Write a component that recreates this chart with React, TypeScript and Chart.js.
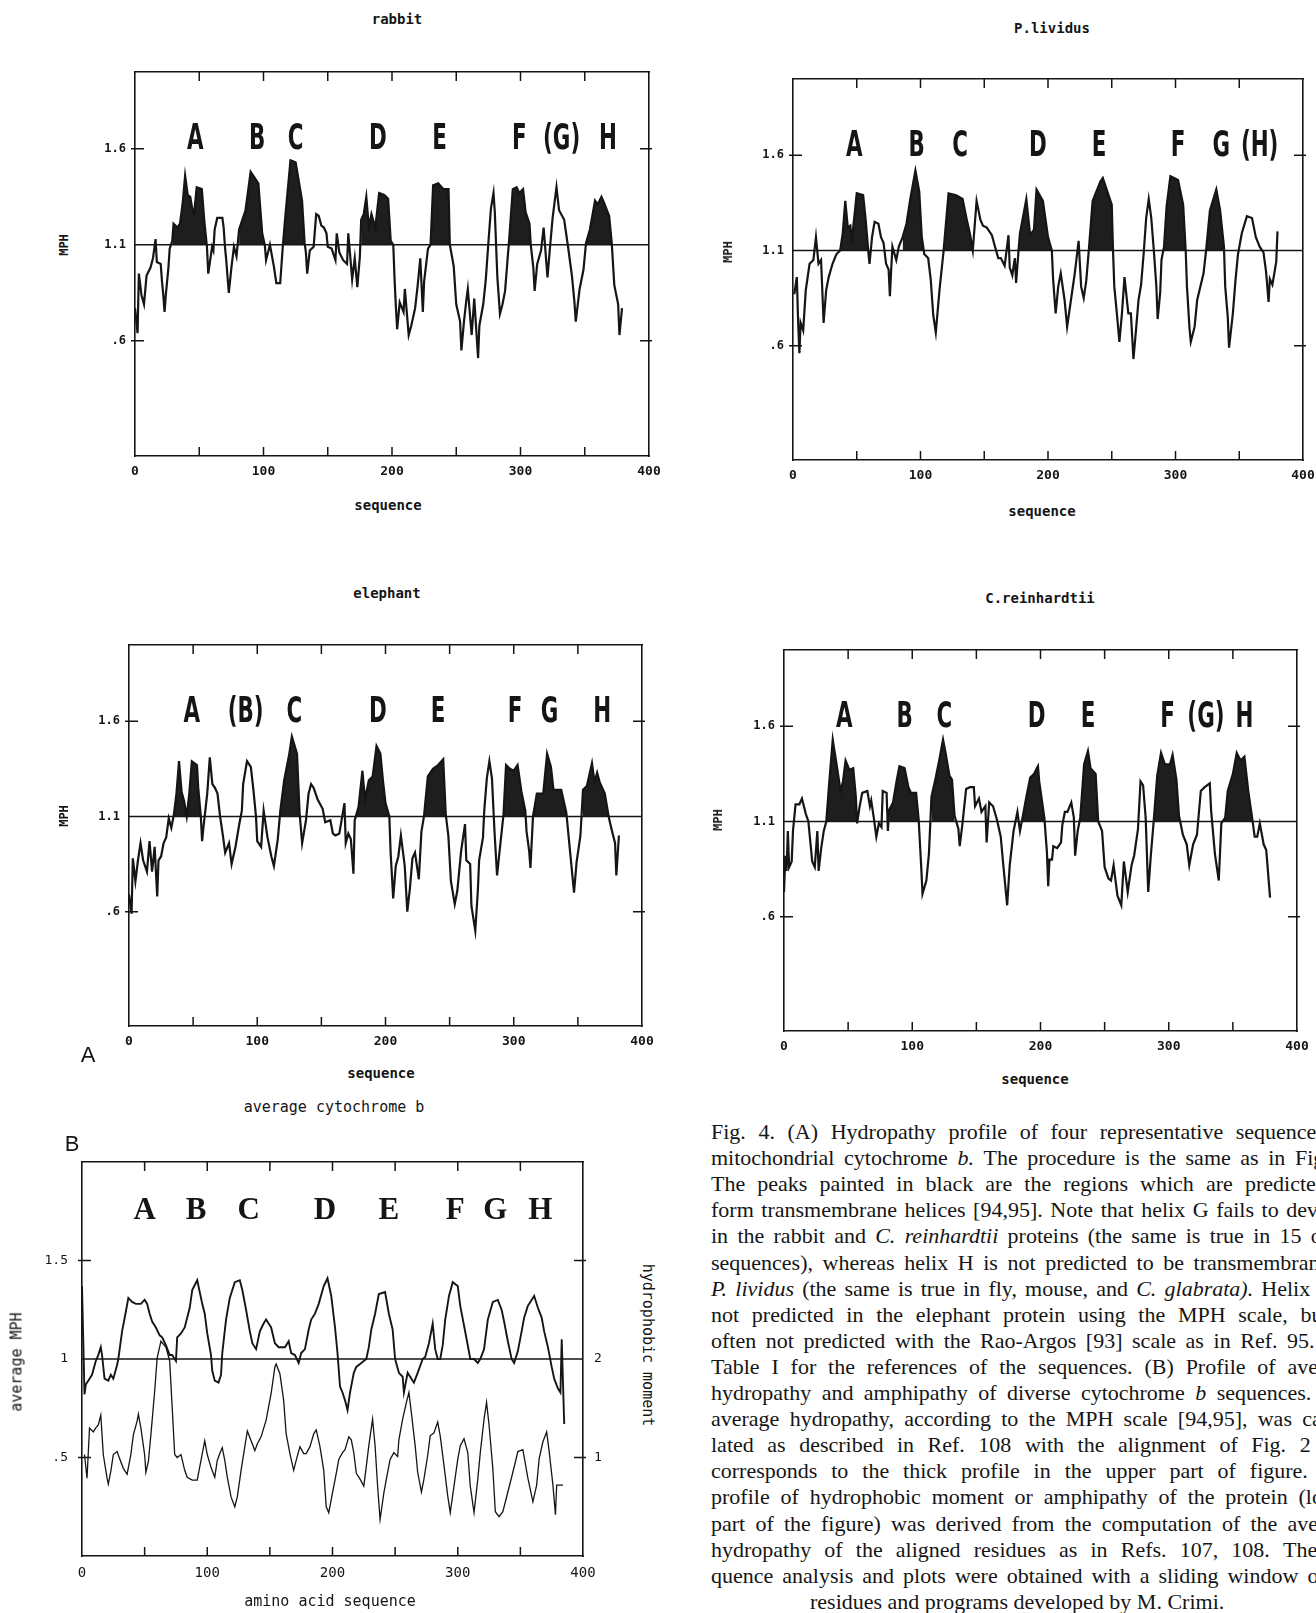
import React, { useEffect, useRef } from "react";
import { Chart, registerables } from "chart.js";
Chart.register(...registerables);

type Pt = [number, number];

// ---------- DATA (residue, MPH) ----------
const RABBIT: Pt[] = [
  [0,0.77],[2,0.64],[3,0.95],[5,0.84],[7,0.79],[9,0.94],[12,0.98],[14,1.03],[16,1.13],[17,1.01],[20,1.0],[21,0.91],[22,0.84],[23,0.75],[24,0.84],[26,0.98],[27,1.08],[29,1.12],[30,1.21],[33,1.19],[35,1.21],[37,1.31],[39,1.46],[41,1.36],[43,1.35],[45,1.27],[46,1.26],[48,1.4],[52,1.39],[54,1.22],[56,1.09],[57,0.95],[60,1.09],[61,1.07],[62,1.18],[64,1.24],[68,1.24],[69,1.19],[70,1.09],[71,1.02],[73,0.85],[75,0.98],[77,1.09],[79,1.04],[81,1.18],[86,1.28],[90,1.48],[93,1.45],[96,1.42],[99,1.16],[101,1.1],[102,1.02],[105,1.1],[108,0.99],[110,0.9],[113,0.9],[115,1.09],[117,1.25],[121,1.54],[125,1.53],[130,1.33],[132,1.11],[133,1.06],[134,0.95],[136,1.07],[139,1.09],[141,1.26],[143,1.25],[145,1.2],[147,1.19],[149,1.16],[150,1.09],[153,1.08],[156,1.02],[157,1.16],[159,1.06],[162,1.02],[165,1.0],[166,1.16],[169,0.92],[171,1.03],[173,0.88],[175,1.04],[176,1.23],[178,1.26],[180,1.35],[182,1.19],[184,1.26],[187,1.19],[190,1.37],[194,1.36],[197,1.34],[199,1.12],[201,1.1],[202,0.92],[203,0.78],[204,0.66],[206,0.8],[209,0.75],[210,0.87],[213,0.63],[215,0.68],[218,0.77],[220,0.89],[222,1.03],[224,0.75],[225,0.91],[228,1.08],[230,1.1],[232,1.41],[236,1.42],[240,1.39],[244,1.39],[245,1.1],[248,0.99],[250,0.79],[253,0.7],[254,0.55],[256,0.7],[258,0.82],[259,0.87],[262,0.63],[264,0.82],[267,0.51],[268,0.68],[271,0.79],[273,0.92],[275,1.11],[277,1.29],[279,1.37],[280,1.27],[282,0.93],[284,0.74],[286,0.79],[288,0.86],[290,1.03],[291,1.11],[294,1.39],[297,1.4],[299,1.37],[302,1.39],[304,1.27],[307,1.21],[308,1.1],[310,0.98],[311,0.86],[313,1.0],[316,1.07],[318,1.19],[321,0.93],[323,1.09],[325,1.24],[328,1.4],[330,1.28],[334,1.23],[337,1.09],[340,0.94],[342,0.8],[343,0.7],[346,0.87],[349,0.97],[351,1.11],[354,1.18],[358,1.33],[360,1.31],[363,1.35],[365,1.32],[369,1.25],[371,1.11],[373,0.89],[376,0.79],[377,0.63],[379,0.77]
];
const RABBIT_HELICES: Pt[] = [[29,56],[81,101],[115,133],[176,201],[230,245],[291,308],[351,371]];
const RABBIT_LABELS = ["A","B","C","D","E","F","(G)","H"];
const RABBIT_LABEL_X = [47,95,125,189,237,299,332,368];

const PLIVIDUS: Pt[] = [
  [1,0.87],[3,0.96],[4,0.73],[5,0.56],[6,0.72],[8,0.68],[10,0.89],[13,1.03],[16,1.05],[18,1.17],[20,1.03],[22,1.05],[23,0.89],[24,0.72],[26,0.89],[28,0.96],[31,1.03],[34,1.08],[37,1.1],[39,1.19],[41,1.36],[43,1.22],[45,1.23],[46,1.14],[50,1.4],[55,1.39],[57,1.26],[59,1.1],[60,1.03],[62,1.17],[64,1.25],[67,1.24],[69,1.17],[71,1.14],[73,1.03],[75,1.0],[76,0.86],[77,1.0],[78,1.12],[81,1.05],[83,1.12],[86,1.17],[89,1.24],[92,1.37],[96,1.52],[99,1.41],[101,1.17],[103,1.08],[106,1.06],[108,0.95],[110,0.76],[112,0.67],[115,0.9],[118,1.09],[122,1.4],[128,1.39],[133,1.37],[136,1.27],[139,1.18],[141,1.1],[144,1.36],[147,1.26],[149,1.23],[152,1.22],[156,1.18],[158,1.13],[161,1.06],[163,1.06],[166,1.02],[169,1.18],[170,1.01],[172,0.97],[174,1.06],[175,0.93],[177,1.11],[178,1.19],[183,1.37],[186,1.18],[189,1.21],[191,1.42],[196,1.36],[200,1.17],[203,1.1],[204,0.95],[206,0.77],[208,0.91],[210,0.98],[213,0.84],[215,0.7],[218,0.84],[221,0.98],[224,1.15],[226,0.91],[228,0.85],[230,0.94],[232,1.1],[235,1.36],[241,1.46],[243,1.48],[250,1.34],[251,1.1],[252,0.91],[254,0.77],[256,0.62],[258,0.77],[260,0.96],[263,0.77],[265,0.77],[267,0.53],[269,0.68],[271,0.84],[273,0.92],[275,1.08],[277,1.27],[279,1.37],[281,1.27],[283,1.1],[285,0.91],[286,0.74],[288,0.88],[289,1.05],[291,1.12],[293,1.33],[296,1.49],[302,1.47],[306,1.34],[308,1.1],[309,0.91],[311,0.69],[312,0.62],[315,0.7],[317,0.84],[322,0.98],[324,1.1],[327,1.31],[332,1.42],[335,1.31],[338,1.12],[339,0.91],[341,0.75],[342,0.59],[345,0.77],[347,0.94],[349,1.08],[352,1.19],[356,1.28],[360,1.27],[363,1.17],[366,1.12],[369,1.09],[371,0.99],[373,0.83],[374,0.95],[376,0.92],[379,1.04],[380,1.2]
];
const PLIVIDUS_HELICES: Pt[] = [[37,59],[86,103],[118,141],[177,203],[232,251],[291,308],[324,338]];
const PLIVIDUS_LABELS = ["A","B","C","D","E","F","G","(H)"];
const PLIVIDUS_LABEL_X = [48,97,131,192,240,302,336,366];

const ELEPHANT: Pt[] = [
  [0,0.69],[2,0.59],[3,0.88],[5,0.76],[7,0.87],[9,0.96],[11,0.87],[14,0.81],[16,0.97],[18,0.81],[20,0.94],[22,0.68],[23,0.87],[25,0.89],[27,0.96],[29,0.99],[31,1.09],[33,1.04],[35,1.11],[37,1.22],[39,1.39],[41,1.23],[43,1.18],[45,1.1],[47,1.22],[49,1.39],[53,1.37],[54,1.25],[56,1.1],[57,0.97],[58,1.04],[61,1.22],[63,1.41],[65,1.27],[67,1.25],[69,1.22],[71,1.1],[73,1.01],[75,0.91],[78,0.96],[80,0.85],[83,0.94],[86,1.06],[88,1.13],[89,1.27],[92,1.39],[95,1.36],[97,1.24],[99,1.1],[100,0.97],[103,0.94],[105,1.13],[108,0.99],[111,0.89],[113,0.84],[116,0.98],[118,1.13],[121,1.29],[125,1.43],[127,1.52],[131,1.43],[133,1.12],[135,0.96],[138,1.08],[140,1.22],[142,1.27],[144,1.25],[147,1.19],[151,1.14],[153,1.07],[157,1.08],[159,1.01],[161,1.0],[164,1.01],[168,1.17],[169,0.96],[171,1.01],[173,0.98],[175,0.8],[176,1.08],[179,1.15],[182,1.34],[184,1.19],[187,1.29],[190,1.31],[193,1.47],[196,1.43],[198,1.29],[200,1.17],[203,1.1],[204,0.91],[206,0.67],[208,0.84],[210,0.89],[212,1.0],[215,0.84],[217,0.6],[219,0.72],[221,0.88],[223,0.91],[226,0.77],[228,1.02],[230,1.1],[233,1.31],[237,1.35],[241,1.37],[245,1.4],[247,1.11],[249,1.0],[251,0.76],[254,0.64],[256,0.71],[259,0.92],[262,1.06],[263,0.87],[266,0.85],[267,0.63],[270,0.5],[272,0.71],[273,0.87],[276,0.99],[277,1.13],[279,1.3],[281,1.39],[283,1.3],[285,1.02],[287,0.79],[289,0.92],[292,1.11],[294,1.37],[297,1.35],[300,1.34],[303,1.37],[306,1.23],[309,1.13],[310,1.02],[312,0.92],[313,0.83],[315,1.1],[318,1.22],[323,1.22],[326,1.43],[329,1.36],[331,1.24],[333,1.24],[337,1.24],[341,1.12],[343,0.98],[345,0.84],[347,0.7],[349,0.86],[352,1.0],[354,1.24],[357,1.26],[361,1.38],[363,1.28],[365,1.33],[367,1.28],[371,1.22],[374,1.1],[376,1.04],[379,0.96],[380,0.79],[382,1.0]
];
const ELEPHANT_HELICES: Pt[] = [[35,56],[118,133],[176,203],[230,247],[292,310],[315,341],[354,374]];
const ELEPHANT_LABELS = ["A","(B)","C","D","E","F","G","H"];
const ELEPHANT_LABEL_X = [49,91,129,194,241,301,328,369];

const CREINHARDTII: Pt[] = [
  [0,0.73],[1,0.92],[2,0.84],[3,1.05],[4,0.86],[6,0.89],[7,1.05],[9,1.19],[12,1.19],[14,1.22],[17,1.14],[19,1.1],[21,0.96],[22,0.89],[24,0.86],[26,1.05],[27,0.84],[29,0.96],[31,1.05],[33,1.1],[35,1.28],[38,1.53],[41,1.4],[43,1.31],[44,1.26],[46,1.31],[48,1.42],[51,1.37],[54,1.38],[56,1.23],[57,1.09],[59,1.18],[61,1.25],[65,1.26],[67,1.18],[68,1.21],[70,1.12],[72,1.02],[74,1.09],[76,1.07],[77,1.26],[80,1.25],[81,1.05],[82,1.16],[85,1.2],[88,1.32],[90,1.39],[94,1.38],[97,1.28],[99,1.25],[103,1.25],[105,1.11],[107,0.86],[108,0.72],[111,0.79],[113,0.93],[115,1.23],[118,1.32],[121,1.42],[124,1.53],[126,1.46],[129,1.34],[131,1.32],[133,1.13],[136,1.06],[137,0.97],[139,1.08],[142,1.27],[145,1.28],[148,1.28],[149,1.18],[152,1.22],[154,1.15],[157,1.18],[158,0.99],[160,1.2],[163,1.18],[166,1.11],[169,1.02],[171,0.87],[174,0.66],[176,0.87],[179,1.05],[182,1.15],[184,1.05],[186,1.12],[189,1.23],[192,1.33],[195,1.35],[198,1.39],[199,1.31],[203,1.12],[205,0.94],[206,0.76],[207,0.9],[209,0.9],[210,0.97],[213,0.96],[216,0.99],[217,1.08],[219,1.15],[221,1.15],[224,1.2],[226,1.12],[227,0.92],[229,1.05],[231,1.12],[234,1.4],[237,1.47],[239,1.38],[243,1.35],[245,1.1],[248,1.05],[250,0.86],[253,0.8],[255,0.79],[257,0.87],[260,0.71],[263,0.66],[265,0.89],[268,0.73],[271,0.87],[273,0.92],[276,1.06],[278,1.31],[280,1.29],[282,1.12],[284,0.73],[286,0.92],[288,1.08],[291,1.34],[294,1.46],[297,1.4],[301,1.4],[303,1.45],[306,1.32],[308,1.13],[311,1.03],[314,0.98],[316,0.87],[319,0.98],[322,1.03],[325,1.26],[328,1.28],[332,1.3],[333,1.16],[336,0.93],[339,0.79],[341,1.09],[344,1.12],[346,1.26],[350,1.35],[353,1.46],[356,1.42],[359,1.44],[362,1.26],[365,1.12],[367,1.02],[369,1.02],[371,1.09],[374,0.98],[376,0.95],[379,0.7]
];
const CREINHARDTII_HELICES: Pt[] = [[33,57],[82,105],[115,133],[184,203],[231,245],[288,308],[341,365]];
const CREINHARDTII_LABELS = ["A","B","C","D","E","F","(G)","H"];
const CREINHARDTII_LABEL_X = [47,94,125,197,237,299,329,359];

// Panel B: average MPH (left axis) and hydrophobic moment (right axis)
const AVG_MPH: Pt[] = [
  [0,1.37],[2,0.82],[3,0.87],[5,0.89],[8,0.92],[11,0.99],[13,1.02],[15,1.06],[16,1.02],[18,0.9],[21,0.89],[23,0.92],[25,0.9],[28,0.97],[29,1.0],[32,1.14],[35,1.24],[37,1.31],[40,1.29],[43,1.28],[47,1.28],[50,1.3],[52,1.28],[54,1.23],[56,1.19],[59,1.16],[62,1.12],[64,1.11],[67,1.07],[70,1.02],[72,1.02],[75,0.99],[76,1.11],[79,1.13],[82,1.16],[86,1.26],[88,1.35],[92,1.4],[96,1.28],[98,1.23],[100,1.13],[103,1.02],[104,0.94],[106,0.89],[109,0.88],[111,0.92],[112,1.03],[115,1.2],[118,1.31],[122,1.39],[126,1.4],[128,1.35],[131,1.25],[134,1.14],[136,1.08],[139,1.05],[142,1.14],[145,1.18],[147,1.2],[149,1.18],[151,1.16],[154,1.08],[157,1.06],[159,1.06],[162,1.06],[165,1.09],[167,1.03],[170,1.02],[173,0.98],[175,1.03],[178,1.05],[181,1.15],[183,1.2],[186,1.23],[189,1.28],[193,1.37],[196,1.41],[199,1.32],[202,1.16],[204,1.03],[206,0.86],[208,0.83],[210,0.79],[212,0.74],[214,0.83],[217,0.93],[219,0.96],[223,0.98],[227,1.0],[229,1.06],[231,1.15],[234,1.23],[237,1.33],[242,1.34],[245,1.23],[248,1.15],[250,1.0],[253,0.93],[256,0.91],[257,0.83],[260,0.93],[262,0.91],[265,0.88],[268,0.93],[272,1.0],[274,1.01],[277,1.08],[280,1.18],[282,1.05],[284,1.0],[286,1.0],[288,1.07],[290,1.2],[293,1.32],[296,1.39],[300,1.37],[302,1.27],[305,1.17],[308,1.07],[310,1.0],[313,1.0],[316,0.98],[318,1.0],[321,1.05],[324,1.2],[328,1.29],[332,1.3],[335,1.25],[337,1.19],[340,1.09],[343,1.0],[345,0.98],[348,1.04],[351,1.14],[353,1.21],[356,1.27],[361,1.32],[364,1.26],[367,1.21],[369,1.14],[372,1.06],[375,0.96],[377,0.9],[380,0.85],[382,0.83],[383,1.1],[385,0.67]
];
const HYDROPHOBIC_MOMENT: Pt[] = [
  [2,1.03],[4,0.79],[6,1.3],[9,1.26],[11,1.3],[13,1.33],[15,1.43],[16,1.23],[17,1.03],[20,0.79],[21,0.73],[23,0.86],[25,1.03],[28,1.06],[30,0.99],[33,0.89],[36,0.83],[39,1.03],[41,1.23],[44,1.37],[45,1.44],[47,1.3],[50,1.03],[51,0.85],[53,0.96],[55,1.23],[58,1.67],[60,2.01],[63,2.18],[65,2.15],[67,2.12],[70,1.98],[72,1.51],[74,1.03],[76,1.0],[79,1.03],[82,0.87],[84,0.8],[88,0.77],[92,0.77],[95,0.97],[98,1.17],[100,1.03],[103,0.9],[106,0.8],[108,0.97],[110,1.04],[112,1.1],[114,0.97],[116,0.8],[119,0.6],[122,0.5],[124,0.6],[127,0.87],[130,1.11],[132,1.27],[135,1.17],[138,1.07],[140,1.14],[143,1.21],[147,1.38],[151,1.65],[154,1.92],[155,1.95],[158,1.85],[161,1.58],[163,1.24],[166,1.04],[169,0.87],[171,0.97],[174,1.11],[177,1.04],[179,1.04],[182,1.11],[185,1.24],[187,1.28],[190,1.11],[193,0.87],[195,0.5],[197,0.44],[200,0.64],[203,0.84],[205,0.98],[208,1.05],[210,1.08],[213,1.21],[215,1.18],[217,1.05],[219,0.84],[222,0.78],[225,0.71],[227,0.91],[229,1.12],[232,1.39],[234,1.12],[236,0.71],[238,0.37],[241,0.64],[244,0.85],[246,0.98],[249,1.05],[252,1.01],[253,1.18],[256,1.39],[259,1.56],[261,1.66],[263,1.45],[266,1.12],[268,0.85],[271,0.65],[273,0.78],[276,1.02],[278,1.22],[281,1.25],[284,1.36],[286,1.22],[289,0.92],[292,0.61],[294,0.44],[297,0.71],[300,0.98],[302,1.12],[305,1.19],[308,1.05],[310,0.71],[313,0.44],[316,0.78],[318,1.05],[321,1.39],[323,1.56],[325,1.33],[328,0.89],[330,0.45],[333,0.4],[336,0.45],[340,0.65],[344,0.85],[348,1.06],[352,1.08],[356,0.79],[360,0.55],[363,0.72],[365,0.99],[368,1.16],[371,1.26],[373,1.06],[376,0.72],[378,0.42],[379,0.72],[384,0.72]
];
const B_LABELS = ["A","B","C","D","E","F","G","H"];
const B_LABEL_X = [50,91,133,194,245,298,330,366];

// ---------- AXES ----------
const X_TICK_MARKS = [50,100,150,200,250,300,350];
const Y_TICKS_A = [0.6, 1.1, 1.6];
const Y_TICK_LABELS_A = [".6", "1.1", "1.6"];
const Y_MARKS_A = [0.6, 1.6];
const THRESHOLD_A = 1.1;
const Y_TICKS_B = [0.5, 1, 1.5];
const Y_TICK_LABELS_B = [".5", "1", "1.5"];
const Y2_TICKS_B = [1, 2];
const Y2_TICK_LABELS_B = ["1", "2"];
const Y_MARKS_B = [0.5, 1.5];
const THRESHOLD_B = 1.0;

const CAPTION_LINES = [
  "Fig. 4. (A) Hydropathy profile of four representative sequences of",
  "mitochondrial cytochrome ~b. The procedure is the same as in Fig. 3.",
  "The peaks painted in black are the regions which are predicted to",
  "form transmembrane helices [94,95]. Note that helix G fails to develop",
  "in the rabbit and ~C. ~reinhardtii proteins (the same is true in 15 other",
  "sequences), whereas helix H is not predicted to be transmembrane in",
  "~P. ~lividus (the same is true in fly, mouse, and ~C. ~glabrata). Helix B is",
  "not predicted in the elephant protein using the MPH scale, but is",
  "often not predicted with the Rao-Argos [93] scale as in Ref. 95. See",
  "Table I for the references of the sequences. (B) Profile of average",
  "hydropathy and amphipathy of diverse cytochrome ~b sequences. The",
  "average hydropathy, according to the MPH scale [94,95], was calcu-",
  "lated as described in Ref. 108 with the alignment of Fig. 2 and",
  "corresponds to the thick profile in the upper part of figure. The",
  "profile of hydrophobic moment or amphipathy of the protein (lower",
  "part of the figure) was derived from the computation of the average",
  "hydropathy of the aligned residues as in Refs. 107, 108. The se-",
  "quence analysis and plots were obtained with a sliding window of 11",
];
const CAPTION_LAST = "residues and programs developed by M. Crimi.";

// ---------- STYLE ----------
const INK = "#151515";
const FILL = "#1e1e1e";
const MONO = '"DejaVu Sans Mono", "Liberation Mono", monospace';

function inRanges(x: number, ranges: Pt[]) {
  return ranges.some(([a, b]) => x >= a && x <= b);
}

function innerTicksPlugin(xs: number[], ys: number[], len: number) {
  return {
    id: "innerTicks",
    afterDraw(chart: any) {
      const { ctx, chartArea: a, scales } = chart;
      ctx.save();
      ctx.strokeStyle = INK;
      ctx.lineWidth = 1.5;
      ctx.beginPath();
      for (const v of xs) {
        const px = scales.x.getPixelForValue(v);
        ctx.moveTo(px, a.bottom);
        ctx.lineTo(px, a.bottom - len);
        ctx.moveTo(px, a.top);
        ctx.lineTo(px, a.top + len);
      }
      for (const v of ys) {
        const py = scales.y.getPixelForValue(v);
        ctx.moveTo(a.left - 4, py);
        ctx.lineTo(a.left + len, py);
        ctx.moveTo(a.right + 3, py);
        ctx.lineTo(a.right - len, py);
      }
      ctx.stroke();
      ctx.restore();
    },
  };
}

function helixLabelsPlugin(labels: string[], xs: number[], yVal: number, font: string, sx: number) {
  return {
    id: "helixLabels",
    afterDatasetsDraw(chart: any) {
      const { ctx, scales } = chart;
      ctx.save();
      ctx.fillStyle = INK;
      ctx.font = font;
      ctx.textAlign = "center";
      ctx.textBaseline = "middle";
      labels.forEach((t, i) => {
        const px = scales.x.getPixelForValue(xs[i]);
        const py = scales.y.getPixelForValue(yVal);
        ctx.save();
        ctx.translate(px, py);
        ctx.scale(sx, 1);
        ctx.fillText(t, 0, 0);
        ctx.restore();
      });
      ctx.restore();
    },
  };
}

type Pad = { l: number; r: number; t: number; b: number };
type Frame = { l: number; r: number; t: number; b: number };

const PAD_A: Pad = { l: 62, r: 12, t: 12, b: 32 };
const PAD_B: Pad = { l: 62, r: 40, t: 12, b: 36 };

function borderOpt() {
  return { display: true, color: INK, width: 1.6 };
}

function fixSize(dim: "w" | "h", size: number) {
  return (s: any) => {
    if (dim === "w") s.width = size;
    else s.height = size;
    s.paddingLeft = 0;
    s.paddingRight = 0;
    s.paddingTop = 0;
    s.paddingBottom = 0;
  };
}

function panelAConfig(series: Pt[], helices: Pt[], labels: string[], labelX: number[], pad: Pad) {
  return {
    type: "line",
    data: {
      datasets: [
        {
          label: "helix",
          data: series.map(([x, y]) => ({ x, y: inRanges(x, helices) ? y : null })),
          borderWidth: 0,
          borderColor: "rgba(0,0,0,0)",
          pointRadius: 0,
          spanGaps: false,
          fill: { target: { value: THRESHOLD_A }, above: FILL, below: "rgba(0,0,0,0)" },
          order: 3,
        },
        {
          label: "MPH",
          data: series.map(([x, y]) => ({ x, y })),
          borderColor: INK,
          borderWidth: 2.2,
          pointRadius: 0,
          fill: false,
          tension: 0,
          order: 2,
        },
        {
          label: "threshold",
          data: [{ x: 0, y: THRESHOLD_A }, { x: 400, y: THRESHOLD_A }],
          borderColor: INK,
          borderWidth: 1.6,
          pointRadius: 0,
          fill: false,
          order: 1,
        },
      ],
    },
    options: {
      responsive: false,
      animation: false,
      events: [],
      layout: { padding: 0, autoPadding: false },
      plugins: { legend: { display: false }, tooltip: { enabled: false } },
      scales: {
        x: {
          type: "linear", position: "bottom", min: 0, max: 400,
          ticks: { stepSize: 100, autoSkip: false, maxRotation: 0, padding: 8, color: INK, font: { family: MONO, size: 13, weight: "bold" } },
          grid: { display: false, drawTicks: false },
          border: borderOpt(),
          afterFit: fixSize("h", pad.b),
        },
        x2: {
          type: "linear", position: "top", min: 0, max: 400,
          ticks: { display: false },
          grid: { display: false, drawTicks: false },
          border: borderOpt(),
          afterFit: fixSize("h", pad.t),
        },
        y: {
          type: "linear", position: "left", min: 0, max: 2,
          afterBuildTicks: (s: any) => { s.ticks = Y_TICKS_A.map((v) => ({ value: v })); },
          ticks: {
            padding: 9, color: INK, font: { family: MONO, size: 12, weight: "bold" },
            callback: (v: number) => Y_TICK_LABELS_A[Y_TICKS_A.indexOf(v)] ?? "",
          },
          grid: { display: false, drawTicks: false },
          border: borderOpt(),
          afterFit: fixSize("w", pad.l),
        },
        y2: {
          type: "linear", position: "right", min: 0, max: 2,
          ticks: { display: false },
          grid: { display: false, drawTicks: false },
          border: borderOpt(),
          afterFit: fixSize("w", pad.r),
        },
      },
    },
    plugins: [
      innerTicksPlugin(X_TICK_MARKS, Y_MARKS_A, 9),
      helixLabelsPlugin(labels, labelX, 1.645, 'bold 35px "Liberation Sans Narrow", "DejaVu Sans Condensed", "Roboto Condensed", sans-serif', 0.68),
    ],
  };
}

function panelBConfig(pad: Pad) {
  return {
    type: "line",
    data: {
      datasets: [
        {
          label: "average MPH",
          data: AVG_MPH.map(([x, y]) => ({ x, y })),
          yAxisID: "y",
          borderColor: INK, borderWidth: 1.9, pointRadius: 0, fill: false, tension: 0, order: 2,
        },
        {
          label: "hydrophobic moment",
          data: HYDROPHOBIC_MOMENT.map(([x, y]) => ({ x, y })),
          yAxisID: "y2",
          borderColor: INK, borderWidth: 1.3, pointRadius: 0, fill: false, tension: 0, order: 3,
        },
        {
          label: "threshold",
          data: [{ x: 0, y: THRESHOLD_B }, { x: 400, y: THRESHOLD_B }],
          yAxisID: "y",
          borderColor: INK, borderWidth: 1.5, pointRadius: 0, fill: false, order: 1,
        },
      ],
    },
    options: {
      responsive: false,
      animation: false,
      events: [],
      layout: { padding: 0, autoPadding: false },
      plugins: { legend: { display: false }, tooltip: { enabled: false } },
      scales: {
        x: {
          type: "linear", position: "bottom", min: 0, max: 400,
          ticks: { stepSize: 100, autoSkip: false, maxRotation: 0, padding: 9, color: INK, font: { family: MONO, size: 14 } },
          grid: { display: false, drawTicks: false },
          border: borderOpt(),
          afterFit: fixSize("h", pad.b),
        },
        x2: {
          type: "linear", position: "top", min: 0, max: 400,
          ticks: { display: false },
          grid: { display: false, drawTicks: false },
          border: borderOpt(),
          afterFit: fixSize("h", pad.t),
        },
        y: {
          type: "linear", position: "left", min: 0, max: 2,
          afterBuildTicks: (s: any) => { s.ticks = Y_TICKS_B.map((v) => ({ value: v })); },
          ticks: {
            padding: 14, color: INK, font: { family: MONO, size: 13 },
            callback: (v: number) => Y_TICK_LABELS_B[Y_TICKS_B.indexOf(v)] ?? "",
          },
          grid: { display: false, drawTicks: false },
          border: borderOpt(),
          afterFit: fixSize("w", pad.l),
        },
        y2: {
          type: "linear", position: "right", min: 0, max: 4,
          afterBuildTicks: (s: any) => { s.ticks = Y2_TICKS_B.map((v) => ({ value: v })); },
          ticks: {
            padding: 11, color: INK, font: { family: MONO, size: 13 },
            callback: (v: number) => Y2_TICK_LABELS_B[Y2_TICKS_B.indexOf(v)] ?? "",
          },
          grid: { display: false, drawTicks: false },
          border: borderOpt(),
          afterFit: fixSize("w", pad.r),
        },
      },
    },
    plugins: [
      innerTicksPlugin(X_TICK_MARKS, Y_MARKS_B, 9),
      helixLabelsPlugin(B_LABELS, B_LABEL_X, 1.75, 'bold 31px "Liberation Serif", "DejaVu Serif", serif', 1),
    ],
  };
}

function ChartBox({ frame, pad, makeConfig }: { frame: Frame; pad: Pad; makeConfig: () => any }) {
  const ref = useRef<HTMLCanvasElement | null>(null);
  const w = frame.r - frame.l + pad.l + pad.r;
  const h = frame.b - frame.t + pad.t + pad.b;
  useEffect(() => {
    const chart = new Chart(ref.current as HTMLCanvasElement, makeConfig());
    return () => chart.destroy();
  }, []);
  return (
    <canvas
      ref={ref}
      width={w}
      height={h}
      style={{ position: "absolute", left: frame.l - pad.l, top: frame.t - pad.t, width: w, height: h }}
    />
  );
}

function Txt({ x, y, children, style, rotate }: { x: number; y: number; children: any; style?: any; rotate?: number }) {
  return (
    <div
      style={{
        position: "absolute",
        left: x,
        top: y,
        transform: `translate(-50%, -50%)${rotate ? ` rotate(${rotate}deg)` : ""}`,
        whiteSpace: "nowrap",
        color: INK,
        lineHeight: 1,
        ...style,
      }}
    >
      {children}
    </div>
  );
}

const titleStyle = { fontFamily: MONO, fontWeight: "bold", fontSize: 14 };
const mphStyle = { fontFamily: MONO, fontWeight: "bold", fontSize: 12 };
const bStyle = { fontFamily: MONO, fontSize: 15 };
const panelLetterStyle = { fontFamily: '"Liberation Sans", "DejaVu Sans", sans-serif', fontSize: 22, fontWeight: 300 };

function CaptionLine({ text, top }: { text: string; top: number }) {
  const words = text.split(" ");
  return (
    <div
      style={{
        position: "absolute",
        left: 711,
        top,
        width: 645,
        display: "flex",
        justifyContent: "space-between",
        whiteSpace: "nowrap",
        fontFamily: '"Liberation Serif", "DejaVu Serif", serif',
        fontSize: 22,
        lineHeight: "26px",
        color: INK,
      }}
    >
      {words.map((w, i) =>
        w.startsWith("~") ? (
          <span key={i} style={{ fontStyle: "italic" }}>{w.slice(1)}</span>
        ) : (
          <span key={i}>{w}</span>
        )
      )}
    </div>
  );
}

const FRAME_RABBIT: Frame = { l: 135, r: 649, t: 72, b: 456 };
const FRAME_PLIVIDUS: Frame = { l: 793, r: 1303, t: 79, b: 460 };
const FRAME_ELEPHANT: Frame = { l: 129, r: 642, t: 645, b: 1026 };
const FRAME_CREIN: Frame = { l: 784, r: 1297, t: 650, b: 1031 };
const FRAME_B: Frame = { l: 82, r: 583, t: 1162, b: 1556 };

export default function App() {
  return (
    <div
      style={{
        position: "absolute",
        left: 0,
        top: 0,
        width: 1316,
        height: 1613,
        overflow: "hidden",
        background: "#ffffff",
      }}
    >
      <ChartBox frame={FRAME_RABBIT} pad={PAD_A} makeConfig={() => panelAConfig(RABBIT, RABBIT_HELICES, RABBIT_LABELS, RABBIT_LABEL_X, PAD_A)} />
      <ChartBox frame={FRAME_PLIVIDUS} pad={PAD_A} makeConfig={() => panelAConfig(PLIVIDUS, PLIVIDUS_HELICES, PLIVIDUS_LABELS, PLIVIDUS_LABEL_X, PAD_A)} />
      <ChartBox frame={FRAME_ELEPHANT} pad={PAD_A} makeConfig={() => panelAConfig(ELEPHANT, ELEPHANT_HELICES, ELEPHANT_LABELS, ELEPHANT_LABEL_X, PAD_A)} />
      <ChartBox frame={FRAME_CREIN} pad={PAD_A} makeConfig={() => panelAConfig(CREINHARDTII, CREINHARDTII_HELICES, CREINHARDTII_LABELS, CREINHARDTII_LABEL_X, PAD_A)} />
      <ChartBox frame={FRAME_B} pad={PAD_B} makeConfig={() => panelBConfig(PAD_B)} />

      <Txt x={397} y={19} style={titleStyle}>rabbit</Txt>
      <Txt x={1052} y={28} style={titleStyle}>P.lividus</Txt>
      <Txt x={387} y={593} style={titleStyle}>elephant</Txt>
      <Txt x={1040} y={598} style={titleStyle}>C.reinhardtii</Txt>

      <Txt x={388} y={505} style={titleStyle}>sequence</Txt>
      <Txt x={1042} y={511} style={titleStyle}>sequence</Txt>
      <Txt x={381} y={1073} style={titleStyle}>sequence</Txt>
      <Txt x={1035} y={1079} style={titleStyle}>sequence</Txt>

      <Txt x={64} y={245} style={mphStyle} rotate={-90}>MPH</Txt>
      <Txt x={728} y={252} style={mphStyle} rotate={-90}>MPH</Txt>
      <Txt x={64} y={816} style={mphStyle} rotate={-90}>MPH</Txt>
      <Txt x={718} y={820} style={mphStyle} rotate={-90}>MPH</Txt>

      <Txt x={88} y={1055} style={panelLetterStyle}>A</Txt>
      <Txt x={72} y={1144} style={panelLetterStyle}>B</Txt>

      <Txt x={334} y={1107} style={bStyle}>average cytochrome b</Txt>
      <Txt x={330} y={1601} style={bStyle}>amino acid sequence</Txt>
      <Txt x={17} y={1362} style={bStyle} rotate={-90}>average MPH</Txt>
      <Txt x={647} y={1345} style={bStyle} rotate={90}>hydrophobic moment</Txt>

      {CAPTION_LINES.map((t, i) => (
        <CaptionLine key={i} text={t} top={1132 + i * 26.1 - 13} />
      ))}
      <div
        style={{
          position: "absolute",
          left: 810,
          top: 1132 + 18 * 26.1 - 13,
          whiteSpace: "nowrap",
          fontFamily: '"Liberation Serif", "DejaVu Serif", serif',
          fontSize: 22,
          lineHeight: "26px",
          color: INK,
        }}
      >
        {CAPTION_LAST}
      </div>
    </div>
  );
}
